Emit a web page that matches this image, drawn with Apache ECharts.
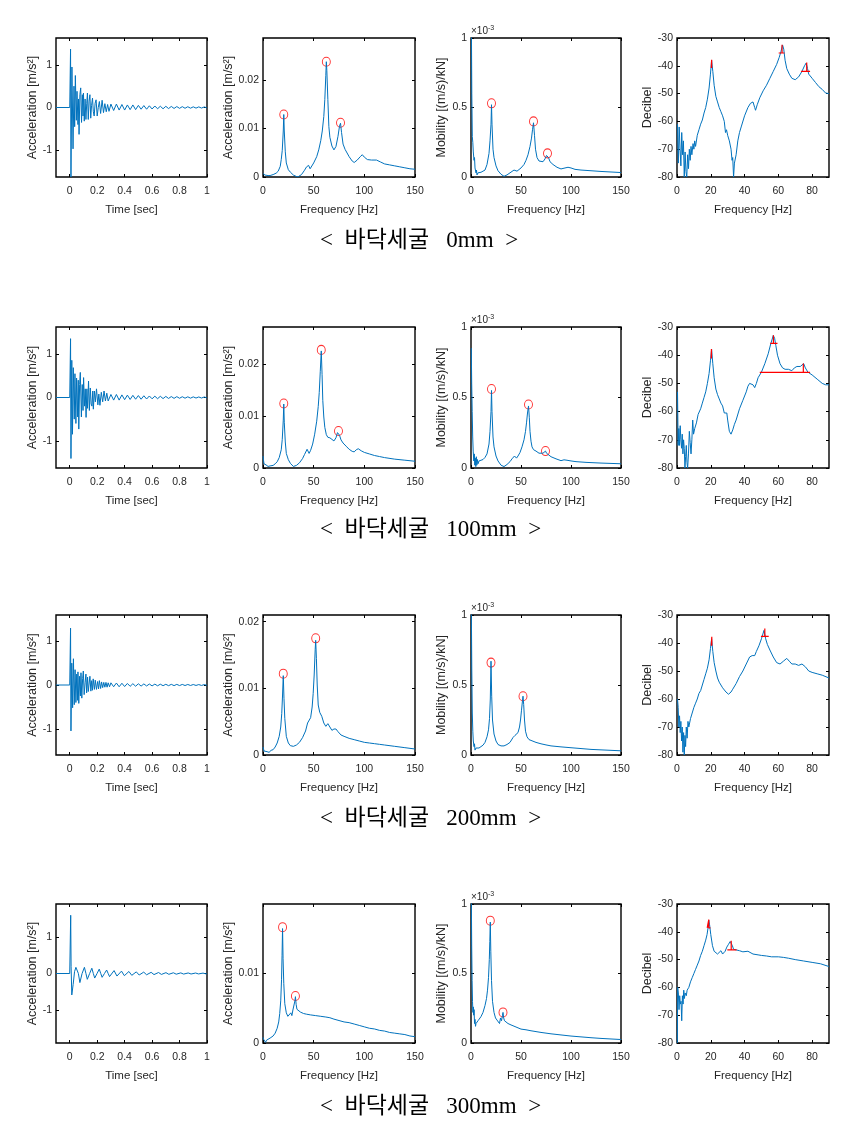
<!DOCTYPE html>
<html>
<head>
<meta charset="utf-8">
<script src="https://cdn.jsdelivr.net/npm/echarts@6/dist/echarts.min.js"></script>
<style>
  html, body { margin: 0; padding: 0; background: #fff; }
  #chart { width: 853px; height: 1122px; }
</style>
</head>
<body>
<div id="chart"></div>
<script>
// ---- captions ----
const captions = ['<  바닥세굴   0mm  >', '<  바닥세굴   100mm  >', '<  바닥세굴   200mm  >', '<  바닥세굴   300mm  >'];

// ---- tick values ----
const timeTicks = [0, 0.2, 0.4, 0.6, 0.8, 1];
const accTicksY = [-1, 0, 1];
const freqTicks = [0, 50, 100, 150];
const specTicksY = [0, 0.01, 0.02];
const mobTicksY = [0, 0.5, 1];
const dbTicksX = [0, 20, 40, 60, 80];
const dbTicksY = [-80, -70, -60, -50, -40, -30];

// ---- time signals [sec, m/s2] ----
const accTime0 = [[-0.1,0],[0,0],[0.004,0.02],[0.006,1.37],[0.009,-1.63],[0.016,0.95],[0.024,-0.97],[0.031,0.5],[0.036,-0.45],[0.041,0.75],[0.048,-0.3],[0.053,0.38],[0.060,-0.4],[0.064,0.2],[0.068,-0.63],[0.074,0.3],[0.080,0.46],[0.086,-0.35],[0.092,0.3],[0.097,-0.2],[0.100,0.34],[0.106,-0.32],[0.112,0.2],[0.118,-0.28],[0.124,0.1],[0.129,0.34],[0.135,-0.28],[0.141,0.15],[0.147,0.3],[0.153,-0.25],[0.159,0.05],[0.166,0.22],[0.172,-0.1],[0.178,-0.2],[0.185,0.1],[0.192,0.18],[0.200,-0.2],[0.208,0.0],[0.216,0.14],[0.225,-0.14],[0.236,0.17],[0.246,-0.12],[0.256,0.09],[0.266,-0.1],[0.276,0.07],[0.286,-0.09],[0.30,0.08],[0.32,-0.07],[0.34,0.08],[0.36,-0.06],[0.38,0.07],[0.40,-0.06],[0.42,0.06],[0.44,-0.05],[0.46,0.06],[0.48,-0.05],[0.50,0.05],[0.52,-0.04],[0.54,0.045],[0.56,-0.04],[0.58,0.04],[0.60,-0.035],[0.62,0.035],[0.64,-0.03],[0.66,0.03],[0.68,-0.03],[0.70,0.028],[0.72,-0.025],[0.74,0.025],[0.76,-0.022],[0.78,0.022],[0.80,-0.02],[0.82,0.02],[0.84,-0.018],[0.86,0.018],[0.88,-0.016],[0.90,0.016],[0.92,-0.015],[0.94,0.015],[0.96,-0.013],[0.98,0.013],[1.0,-0.01]];
const accTime100 = [[-0.1,0],[0,0],[0.004,0.02],[0.006,1.36],[0.009,-1.41],[0.015,0.86],[0.020,-0.85],[0.026,0.69],[0.033,-0.5],[0.038,0.55],[0.045,-0.6],[0.050,0.45],[0.058,-0.45],[0.062,0.4],[0.066,-0.73],[0.072,0.3],[0.077,0.58],[0.085,-0.45],[0.091,0.3],[0.097,-0.3],[0.101,0.46],[0.108,-0.2],[0.113,0.2],[0.119,-0.46],[0.125,0.2],[0.130,-0.25],[0.137,0.38],[0.143,-0.3],[0.150,0.22],[0.156,-0.15],[0.162,-0.2],[0.168,0.15],[0.172,-0.27],[0.180,0.15],[0.187,-0.1],[0.195,0.2],[0.205,-0.17],[0.212,0.08],[0.220,-0.18],[0.230,0.12],[0.240,-0.1],[0.250,0.15],[0.260,-0.08],[0.270,0.1],[0.280,-0.08],[0.30,0.07],[0.32,-0.06],[0.34,0.07],[0.36,-0.06],[0.38,0.06],[0.40,-0.05],[0.42,0.055],[0.44,-0.045],[0.46,0.05],[0.48,-0.04],[0.50,0.045],[0.52,-0.04],[0.54,0.04],[0.56,-0.035],[0.58,0.035],[0.60,-0.03],[0.62,0.03],[0.64,-0.028],[0.66,0.028],[0.68,-0.025],[0.70,0.025],[0.72,-0.022],[0.74,0.022],[0.76,-0.02],[0.78,0.02],[0.80,-0.018],[0.82,0.018],[0.84,-0.016],[0.86,0.016],[0.88,-0.015],[0.90,0.015],[0.92,-0.013],[0.94,0.013],[0.96,-0.012],[0.98,0.012],[1.0,-0.01]];
const accTime200 = [[-0.1,0],[0,0],[0.004,0.02],[0.006,1.3],[0.009,-1.05],[0.015,0.5],[0.021,-0.52],[0.027,0.6],[0.033,-0.45],[0.039,0.35],[0.045,-0.4],[0.051,0.25],[0.056,-0.35],[0.060,0.3],[0.066,-0.42],[0.072,0.2],[0.078,-0.25],[0.082,0.28],[0.088,-0.3],[0.094,0.15],[0.099,0.32],[0.105,-0.22],[0.112,0.05],[0.118,0.25],[0.123,-0.18],[0.130,0.18],[0.135,-0.15],[0.142,-0.12],[0.147,0.2],[0.154,-0.14],[0.160,0.1],[0.166,-0.12],[0.171,0.14],[0.180,-0.1],[0.186,0.11],[0.195,-0.1],[0.203,0.08],[0.210,-0.09],[0.216,0.1],[0.225,-0.08],[0.232,0.07],[0.240,-0.06],[0.248,0.06],[0.256,-0.05],[0.264,0.06],[0.272,-0.05],[0.280,0.05],[0.290,-0.04],[0.300,0.05],[0.32,-0.04],[0.34,0.045],[0.36,-0.04],[0.38,0.04],[0.40,-0.035],[0.42,0.035],[0.44,-0.03],[0.46,0.03],[0.48,-0.028],[0.50,0.028],[0.52,-0.025],[0.54,0.025],[0.56,-0.022],[0.58,0.022],[0.60,-0.02],[0.62,0.02],[0.64,-0.018],[0.66,0.018],[0.68,-0.016],[0.70,0.016],[0.72,-0.015],[0.74,0.015],[0.76,-0.014],[0.78,0.014],[0.80,-0.013],[0.82,0.013],[0.84,-0.012],[0.86,0.012],[0.88,-0.011],[0.90,0.011],[0.92,-0.01],[0.94,0.01],[0.96,-0.01],[0.98,0.01],[1.0,-0.008]];
const accTime300 = [[-0.1,0],[0,0],[0.004,0.0],[0.007,1.6],[0.010,0.2],[0.015,-0.59],[0.025,-0.3],[0.035,0.05],[0.045,0.17],[0.053,0.185],[0.063,0.0],[0.074,-0.25],[0.090,0.0],[0.107,0.17],[0.118,0.0],[0.128,-0.16],[0.145,0.0],[0.161,0.145],[0.172,0.0],[0.182,-0.125],[0.199,0.0],[0.215,0.12],[0.226,0.0],[0.236,-0.105],[0.253,0.0],[0.269,0.095],[0.280,0.0],[0.290,-0.085],[0.323,0.08],[0.344,-0.07],[0.377,0.065],[0.398,-0.06],[0.431,0.055],[0.452,-0.05],[0.485,0.045],[0.506,-0.042],[0.539,0.038],[0.560,-0.035],[0.593,0.032],[0.614,-0.03],[0.647,0.027],[0.668,-0.025],[0.701,0.023],[0.722,-0.022],[0.755,0.02],[0.776,-0.019],[0.809,0.017],[0.830,-0.016],[0.863,0.015],[0.884,-0.014],[0.917,0.013],[0.938,-0.012],[0.971,0.011],[0.992,-0.01],[1.0,-0.005]];

// ---- acceleration spectra [Hz, m/s2] ----
const accSpec0 = [[0,0.0007],[1,0.0009],[2,0.0004],[3,0.0006],[5,0.0003],[7,0.0003],[10,0.0005],[13,0.0008],[15,0.0012],[17,0.0022],[18,0.0036],[19,0.0055],[20,0.0095],[20.5,0.0129],[21,0.0095],[22,0.0052],[23,0.0029],[25,0.0015],[27,0.001],[30,0.0004],[33,0.0001],[35,0.0001],[38,0.0005],[41,0.0014],[43,0.0021],[45,0.0024],[46.5,0.0017],[48,0.002],[50,0.0029],[53,0.0042],[55,0.0056],[57,0.0075],[58.5,0.0095],[60,0.0125],[61,0.016],[62,0.021],[62.5,0.0238],[63,0.022],[64,0.016],[65,0.0104],[66,0.0082],[68,0.0064],[70,0.0056],[72,0.0063],[74,0.0084],[75.5,0.0105],[76.5,0.0111],[77.5,0.0092],[79,0.0068],[81,0.0057],[85,0.0042],[88,0.0033],[90,0.003],[93,0.0035],[96,0.0042],[98,0.0046],[100,0.0041],[103,0.0036],[107,0.0035],[112,0.0035],[116,0.0031],[120,0.0027],[125,0.0025],[130,0.0023],[135,0.0021],[140,0.0019],[145,0.0017],[150,0.0016]];
const accSpec100 = [[0,0.0023],[0.5,0.0015],[1,0.0008],[2,0.0005],[3,0.0006],[5,0.0003],[7,0.0004],[10,0.0005],[12,0.0008],[14,0.0012],[16,0.002],[18,0.0035],[19,0.0055],[20,0.0092],[20.5,0.0123],[21,0.0088],[22,0.005],[23,0.0028],[25,0.0016],[27,0.0009],[30,0.0003],[33,0.0005],[36,0.001],[39,0.0018],[41,0.0026],[43.5,0.0036],[45.5,0.0028],[47,0.0034],[49,0.0046],[51,0.0065],[53,0.009],[54.5,0.0118],[55.5,0.0145],[56.5,0.0185],[57.5,0.0225],[58.3,0.018],[59,0.013],[60,0.0098],[61,0.0078],[62.5,0.0064],[64,0.0059],[66,0.0058],[68,0.0055],[70,0.0052],[72,0.0058],[73.5,0.0068],[74.5,0.0071],[75.5,0.0063],[77,0.0054],[79,0.0048],[82,0.0042],[85,0.0036],[88,0.0032],[90,0.0031],[92,0.0035],[94,0.0037],[97,0.0033],[100,0.003],[105,0.0027],[110,0.0024],[115,0.0022],[120,0.002],[130,0.0017],[140,0.0015],[150,0.0013]];
const accSpec200 = [[0,0.0012],[1,0.0006],[2,0.0003],[4,0.0005],[6,0.0004],[8,0.0007],[10,0.0008],[12,0.0012],[14,0.0018],[16,0.0028],[17.5,0.0042],[18.5,0.0062],[19.3,0.009],[20,0.0119],[20.7,0.0085],[21.5,0.0055],[23,0.0028],[25,0.0018],[27,0.0014],[30,0.0013],[33,0.0015],[36,0.0019],[39,0.0026],[42,0.0036],[44,0.0048],[45.5,0.0045],[47,0.0056],[48.5,0.0072],[49.5,0.0092],[50.5,0.012],[51.5,0.0158],[52,0.0172],[52.7,0.0145],[53.5,0.0105],[54.5,0.0075],[56,0.0064],[58,0.0058],[60,0.0048],[62,0.0043],[64,0.0047],[66,0.0042],[68,0.0037],[70,0.0039],[72,0.0039],[74,0.0035],[77,0.003],[80,0.0028],[85,0.0025],[90,0.0023],[95,0.0021],[100,0.0019],[105,0.0018],[110,0.0017],[115,0.0016],[120,0.0015],[130,0.0013],[140,0.0011],[150,0.0009]];
const accSpec300 = [[0,0.0008],[0.7,0.0005],[1.5,0.0003],[2.5,0.0001],[3.5,0.0004],[5,0.0006],[7,0.0007],[10,0.001],[12,0.0014],[14,0.0021],[15.5,0.003],[16.5,0.0042],[17.5,0.006],[18.3,0.009],[18.8,0.0125],[19.3,0.0163],[19.8,0.012],[20.5,0.0085],[21.5,0.0056],[23,0.0043],[24.5,0.0038],[26,0.004],[27.5,0.0043],[28.5,0.0039],[29.5,0.0047],[30.5,0.0045],[31.5,0.006],[32,0.0066],[32.7,0.0055],[33.5,0.0048],[35,0.0046],[37,0.0044],[40,0.0042],[43,0.0041],[47,0.004],[52,0.0039],[57,0.0038],[62,0.0037],[66,0.0036],[70,0.0034],[75,0.0032],[80,0.003],[85,0.0029],[90,0.0027],[95,0.0025],[100,0.0023],[105,0.0021],[110,0.002],[115,0.0018],[120,0.0017],[125,0.0015],[130,0.0014],[135,0.0013],[140,0.0012],[145,0.001],[150,0.0009]];
const accPeaks0 = [[20.5,0.0129],[62.5,0.0238],[76.5,0.0112]];
const accPeaks100 = [[20.5,0.0124],[57.5,0.0227],[74.5,0.0071]];
const accPeaks200 = [[20,0.0122],[52,0.0175]];
const accPeaks300 = [[19.3,0.0165],[32,0.0067]];

// ---- mobility [Hz, x10^-3 (m/s)/kN] ----
const mob0 = [[0.3,1.2],[0.8,0.6],[1.3,0.29],[1.8,0.25],[2.3,0.18],[3,0.12],[3.5,0.14],[4,0.065],[5,0.03],[5.5,0.05],[6,0.015],[7,0.03],[8,0.02],[9,0.035],[10,0.034],[12,0.03],[14,0.05],[16,0.09],[18,0.17],[19,0.26],[20,0.38],[20.5,0.52],[21,0.38],[22,0.2],[23,0.14],[25,0.08],[27,0.045],[30,0.02],[33,0.005],[36,0.015],[40,0.035],[43,0.05],[44.5,0.055],[46,0.042],[48,0.05],[50,0.065],[53,0.09],[55,0.12],[57,0.16],[59,0.22],[60.5,0.28],[61.5,0.34],[62.5,0.39],[63.5,0.3],[64.5,0.2],[66,0.14],[68,0.115],[70,0.105],[72,0.11],[74,0.13],[75.5,0.155],[76.5,0.165],[77.5,0.14],[79,0.11],[82,0.09],[86,0.07],[90,0.058],[94,0.065],[97,0.07],[100,0.065],[104,0.055],[110,0.05],[120,0.045],[130,0.04],[140,0.036],[150,0.032]];
const mob100 = [[0.3,0.85],[0.7,0.6],[1.2,0.4],[1.7,0.22],[2.2,0.12],[2.8,0.05],[3.3,0.1],[3.8,0.02],[4.3,0.07],[4.8,0.01],[5.3,0.08],[5.8,0.02],[6.5,0.06],[7,0.03],[8,0.05],[9,0.04],[10,0.055],[12,0.06],[14,0.075],[16,0.1],[18,0.17],[19,0.26],[20,0.4],[20.5,0.55],[21,0.4],[22,0.22],[23,0.15],[25,0.085],[27,0.05],[30,0.02],[33,0.01],[36,0.025],[39,0.045],[41,0.065],[43.5,0.085],[45.5,0.07],[47,0.085],[49,0.11],[51,0.15],[53,0.2],[54.5,0.26],[55.5,0.32],[56.5,0.39],[57.5,0.44],[58.3,0.36],[59,0.26],[60,0.19],[61,0.15],[62.5,0.13],[65,0.12],[68,0.105],[70,0.1],[72,0.105],[73.5,0.115],[74.5,0.12],[75.5,0.105],[77,0.095],[80,0.08],[85,0.065],[90,0.052],[93,0.058],[96,0.055],[100,0.05],[105,0.045],[115,0.04],[130,0.035],[150,0.03]];
const mob200 = [[0.3,1.1],[0.8,0.6],[1.3,0.3],[1.8,0.17],[2.3,0.1],[3,0.06],[3.5,0.08],[4,0.035],[5,0.05],[6,0.04],[7,0.055],[8,0.05],[10,0.06],[12,0.07],[14,0.09],[16,0.13],[17.5,0.18],[18.5,0.26],[19.3,0.4],[20,0.67],[20.7,0.42],[21.5,0.25],[23,0.15],[25,0.1],[27,0.075],[30,0.065],[33,0.065],[36,0.075],[39,0.09],[42,0.125],[44,0.14],[45.5,0.13],[47,0.16],[48.5,0.2],[49.5,0.25],[50.5,0.32],[51.5,0.39],[52,0.42],[52.7,0.36],[53.5,0.25],[54.5,0.17],[56,0.13],[58,0.11],[60,0.1],[65,0.09],[70,0.08],[75,0.072],[80,0.065],[90,0.058],[100,0.052],[110,0.046],[120,0.04],[135,0.035],[150,0.03]];
const mob300 = [[0.3,1.1],[0.7,0.7],[1.1,0.45],[1.5,0.3],[1.9,0.22],[2.3,0.26],[2.7,0.2],[3.1,0.24],[3.5,0.14],[4,0.17],[4.5,0.12],[5,0.14],[6,0.15],[7,0.16],[8,0.17],[10,0.19],[12,0.22],[14,0.27],[15.5,0.32],[16.5,0.38],[17.5,0.47],[18.3,0.6],[18.8,0.73],[19.3,0.87],[19.8,0.66],[20.5,0.45],[21.5,0.3],[23,0.22],[24.5,0.18],[26,0.165],[27.5,0.16],[28.5,0.14],[29.5,0.18],[30.5,0.16],[31.5,0.2],[32,0.22],[32.7,0.18],[33.5,0.16],[35,0.15],[37,0.14],[40,0.13],[45,0.115],[50,0.1],[55,0.095],[60,0.088],[65,0.082],[70,0.076],[80,0.066],[90,0.058],[100,0.05],[110,0.044],[120,0.038],[130,0.033],[140,0.029],[150,0.025]];
const mobPeaks0 = [[20.5,0.53],[62.5,0.4],[76.5,0.17]];
const mobPeaks100 = [[20.5,0.56],[57.5,0.45],[74.5,0.12]];
const mobPeaks200 = [[20,0.66],[52,0.42]];
const mobPeaks300 = [[19.3,0.88],[32,0.22]];

// ---- decibel [Hz, dB] ----
const db0 = [[0.3,-61],[0.8,-75],[1.3,-62],[1.8,-70],[2.3,-76],[2.8,-64],[3.3,-72],[3.8,-67],[4.3,-80],[4.8,-71],[5.3,-78],[5.8,-80],[6.3,-72],[6.8,-77],[7.3,-70],[7.8,-74],[8.3,-69],[8.8,-72],[9.5,-68],[10,-70],[10.5,-67],[11,-69],[12,-65],[13,-63],[14,-61],[15,-59.5],[16,-57],[17,-55],[18,-52],[19,-48],[19.8,-43],[20.5,-38],[21.2,-42],[22,-47],[23,-51],[24,-53],[25,-55],[26,-56.5],[27,-58],[28,-60],[28.7,-64],[29.3,-63],[30,-65],[31,-67],[32,-70],[32.6,-74],[33,-73],[33.5,-80],[34,-75],[35,-72],[36,-67],[37,-64],[38,-62],[40,-58],[42,-55],[43.5,-53.5],[45,-53],[46,-55],[46.5,-56],[47.5,-54],[49,-51.5],[51,-49],[53,-47],[55,-44.5],[57,-42],[59,-39.5],[60.5,-37],[61.5,-35],[62.5,-32.5],[63.2,-34],[64,-38],[65,-41],[66.5,-43],[68,-44.5],[70,-45],[72,-44],[74,-42],[75.5,-40],[76.5,-39],[77.3,-41],[78,-43],[80,-44.5],[82,-46],[84,-47.5],[86,-48.5],[88,-49.8],[90,-50]];
const db100 = [[0.3,-53],[0.7,-72],[1.1,-66],[1.5,-72],[1.9,-65],[2.3,-70],[2.7,-73],[3.1,-68],[3.5,-75],[3.9,-70],[4.3,-73],[4.7,-80],[5.1,-76],[5.5,-72],[5.9,-78],[6.3,-80],[6.8,-75],[7.3,-67],[7.8,-71],[8.3,-75],[8.8,-70],[9.3,-63],[9.8,-68],[10.5,-66],[11.5,-64],[12.5,-61],[14,-59],[15,-57],[16,-55],[17,-53],[18,-50],[19,-46.5],[19.8,-42],[20.5,-38],[21.2,-43],[22,-48],[23,-52],[24,-54],[25,-55.5],[26,-57],[27,-58],[28,-60.5],[29,-61],[29.5,-60.5],[30,-63],[31,-67],[32,-68],[33,-66.5],[34,-64.5],[35,-63],[37,-59],[39,-56],[41,-53],[42,-51],[43,-50],[44,-49.5],[45,-50.5],[46,-51.5],[47,-50],[48,-48],[50,-46],[52,-43],[54,-39.5],[55.5,-36],[57,-33],[57.8,-34],[58.5,-36.5],[59.5,-40],[61,-43],[62.5,-44.5],[64,-45],[66,-45],[68,-45.5],[69.5,-44.5],[71,-44],[73,-44],[75,-43],[76,-44.5],[77.5,-46],[80,-47],[83,-48.5],[86,-50],[88,-50.5],[90,-50.5]];
const db200 = [[0.3,-60],[0.7,-63],[1.1,-70],[1.5,-66],[1.9,-72],[2.3,-68],[2.7,-75],[3.1,-70],[3.5,-79],[3.9,-72],[4.3,-80],[4.7,-73],[5.1,-77],[5.5,-70],[6,-74],[6.5,-68],[7,-70],[8,-67],[9,-65],[10,-63],[11,-61.5],[12,-60],[13,-58],[14,-57],[15,-55],[16,-53],[17,-51],[18,-49],[19,-46],[19.8,-42],[20.5,-38.5],[21.2,-43],[22,-47],[23,-50],[24,-52.5],[25,-54],[26,-55],[27,-56],[28,-56.5],[29,-57.5],[30.5,-58.3],[32,-57.5],[33,-56.5],[35,-54.5],[37,-52],[39,-50],[41,-47.5],[43,-45],[44.5,-44.5],[46,-44.5],[47,-43],[48.5,-41],[50,-38.5],[51.5,-35.5],[52.5,-38.5],[53.5,-40.5],[55,-42.5],[57,-45],[59,-47],[61,-47.5],[63,-46.5],[65,-45.5],[66.5,-46.5],[68,-47.5],[70,-47.5],[72,-48],[74,-47.5],[76,-48.5],[78,-50],[80,-50.5],[83,-51],[86,-51.5],[90,-52.5]];
const db300 = [[0.2,-80],[0.4,-60],[0.8,-62],[1.2,-68],[1.6,-63],[2,-66],[2.4,-65],[2.8,-72],[3.2,-63],[3.6,-66],[4,-61],[4.4,-64],[4.8,-62],[5.5,-63],[6,-61],[7,-60],[8,-58],[9,-56.5],[10,-55],[11,-53.5],[12,-52],[13,-50.5],[14,-48.5],[15,-47],[16,-45],[17,-43],[17.8,-41],[18.4,-38.5],[18.8,-35.8],[19.3,-37.5],[20,-41],[21,-45],[22,-47],[23,-47.5],[24,-48],[25,-47.5],[26,-46.8],[27,-48],[27.5,-48.5],[28.5,-47],[29.5,-45.5],[30.5,-44.5],[31.5,-43.5],[32.1,-43.2],[32.8,-45],[33.5,-46.3],[35,-46.5],[37,-46.8],[39,-47.2],[40,-47.5],[42,-47],[43,-47.5],[45,-48],[48,-48.3],[50,-48.5],[53,-48.7],[56,-49],[60,-49],[63,-49.2],[66,-49.5],[70,-50],[75,-50.5],[80,-51],[85,-51.5],[90,-52.5]];
// half-power marks: [peak Hz, peak dB, level dB, left Hz, right Hz]
const dbMarks0 = [[20.5,-37.8,-40.8,20.3,20.9],[62.2,-32.4,-35.4,60.2,63.6],[76.8,-38.8,-42,73.4,78.8]];
const dbMarks100 = [[20.4,-37.8,-41.2,20.2,20.8],[57.1,-32.9,-35.8,55.2,59.5],[74.8,-42.9,-46.1,49,78.8]];
const dbMarks200 = [[20.6,-37.8,-41,20.3,20.9],[52,-34.8,-37.6,49.7,54.3]];
const dbMarks300 = [[18.8,-35.6,-38.6,17.9,19.8],[32.1,-43.2,-46.5,29.8,35.3]];

// ---- layout ----
const colLeft = [56, 263, 471, 677];
const colWidth = [151, 152, 150, 152];
const rowTop = [38, 327, 615, 904];
const rowHeight = [139, 141, 140, 139];
const captionTop = [224, 513, 802, 1090];

const lineColor = '#0072BD';
const txt = '#262626';
const sans = 'Liberation Sans, Arial, sans-serif';

const rows = [
  {time: accTime0, tMax: 1.63, spec: accSpec0, specMax: 0.0287, specPk: accPeaks0, mob: mob0, mobPk: mobPeaks0, db: db0, marks: dbMarks0},
  {time: accTime100, tMax: 1.63, spec: accSpec100, specMax: 0.0271, specPk: accPeaks100, mob: mob100, mobPk: mobPeaks100, db: db100, marks: dbMarks100},
  {time: accTime200, tMax: 1.6, spec: accSpec200, specMax: 0.021, specPk: accPeaks200, mob: mob200, mobPk: mobPeaks200, db: db200, marks: dbMarks200},
  {time: accTime300, tMax: 1.91, spec: accSpec300, specMax: 0.0198, specPk: accPeaks300, mob: mob300, mobPk: mobPeaks300, db: db300, marks: dbMarks300}
];

const grid = [], xAxis = [], yAxis = [], series = [], title = [], graphic = [];

function addPanel(r, c, p) {
  const gi = grid.length;
  grid.push({left: colLeft[c], top: rowTop[r], width: colWidth[c], height: rowHeight[r],
    show: true, borderColor: '#000', borderWidth: 1.4, backgroundColor: '#fff'});
  const xi = xAxis.length, yi = yAxis.length;
  const tick = (vals) => ({show: true, inside: true, length: 3, customValues: vals, lineStyle: {color: '#000', width: 1}});
  xAxis.push({type: 'value', gridIndex: gi, min: p.xMin, max: p.xMax,
    name: p.xName, nameLocation: 'middle', nameGap: 27,
    nameTextStyle: {fontFamily: sans, fontSize: 11.5, color: txt},
    axisLine: {show: false, onZero: false}, splitLine: {show: false},
    axisTick: tick(p.xTicks),
    axisLabel: {customValues: p.xTicks, fontFamily: sans, fontSize: 10.5, color: txt, margin: 9}});
  xAxis.push({type: 'value', gridIndex: gi, position: 'top', min: p.xMin, max: p.xMax,
    axisLine: {show: false, onZero: false}, splitLine: {show: false},
    axisTick: tick(p.xTicks), axisLabel: {show: false}});
  yAxis.push({type: 'value', gridIndex: gi, min: p.yMin, max: p.yMax,
    name: p.yName, nameLocation: 'middle', nameGap: p.yGap, nameRotate: 90,
    nameTextStyle: {fontFamily: sans, fontSize: 12.5, color: txt},
    axisLine: {show: false, onZero: false}, splitLine: {show: false},
    axisTick: tick(p.yTicks),
    axisLabel: {customValues: p.yTicks, fontFamily: sans, fontSize: 10.5, color: txt, margin: 4}});
  yAxis.push({type: 'value', gridIndex: gi, position: 'right', min: p.yMin, max: p.yMax,
    axisLine: {show: false, onZero: false}, splitLine: {show: false},
    axisTick: tick(p.yTicks), axisLabel: {show: false}});

  series.push({type: 'line', xAxisIndex: xi, yAxisIndex: yi, data: p.data, showSymbol: false,
    symbol: 'none', lineStyle: {color: lineColor, width: 1}, silent: true, clip: true});
  if (p.peaks) {
    series.push({type: 'scatter', xAxisIndex: xi, yAxisIndex: yi, data: p.peaks, symbol: 'circle',
      symbolSize: [8, 9], itemStyle: {color: 'rgba(0,0,0,0)', borderColor: '#ff0000', borderWidth: 1}, silent: true});
  }
  if (p.marks) {
    p.marks.forEach(m => {
      series.push({type: 'line', xAxisIndex: xi, yAxisIndex: yi, showSymbol: false, symbol: 'none',
        data: [[m[3], m[2]], [m[0], m[2]], [m[0], m[1]], [m[0], m[2]], [m[4], m[2]]],
        lineStyle: {color: '#ff0000', width: 1.2}, silent: true});
    });
  }
}

rows.forEach((d, r) => {
  addPanel(r, 0, {data: d.time, xMin: -0.1, xMax: 1, xTicks: timeTicks, xName: 'Time [sec]',
    yMin: -d.tMax, yMax: d.tMax, yTicks: accTicksY, yName: 'Acceleration [m/s²]', yGap: 14});
  addPanel(r, 1, {data: d.spec, peaks: d.specPk, xMin: 0, xMax: 150, xTicks: freqTicks, xName: 'Frequency [Hz]',
    yMin: 0, yMax: d.specMax, yTicks: specTicksY.filter(v => v <= d.specMax), yName: 'Acceleration [m/s²]', yGap: 23});
  addPanel(r, 2, {data: d.mob, peaks: d.mobPk, xMin: 0, xMax: 150, xTicks: freqTicks, xName: 'Frequency [Hz]',
    yMin: 0, yMax: 1, yTicks: mobTicksY, yName: 'Mobility [(m/s)/kN]', yGap: 17});
  addPanel(r, 3, {data: d.db, marks: d.marks, xMin: 0, xMax: 90, xTicks: dbTicksX, xName: 'Frequency [Hz]',
    yMin: -80, yMax: -30, yTicks: dbTicksY, yName: 'Decibel', yGap: 19});

  title.push({text: captions[r], left: 315, top: captionTop[r],
    textStyle: {fontFamily: "'Liberation Serif', 'Noto Sans CJK KR', serif", fontSize: 23, fontWeight: 'normal', color: '#000'}});
  graphic.push({type: 'text', left: 471, top: rowTop[r] - 13, silent: true,
    style: {text: '{a|×10}{b|-3}', rich: {a: {fontFamily: sans, fontSize: 10, fill: txt},
      b: {fontFamily: sans, fontSize: 7, fill: txt, verticalAlign: 'top', padding: [0, 0, 6, 0]}}}});
});

const chart = echarts.init(document.getElementById('chart'));
chart.setOption({animation: false, backgroundColor: '#fff', title, grid, xAxis, yAxis, series, graphic});
</script>
</body>
</html>
